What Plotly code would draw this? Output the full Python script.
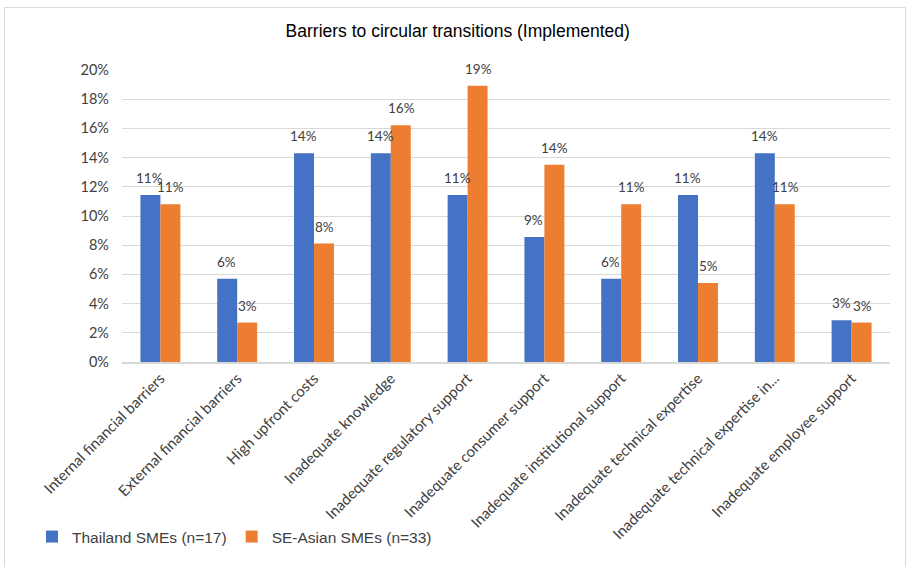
import plotly.graph_objects as go

categories = ["Internal financial barriers", "External financial barriers", "High upfront costs",
              "Inadequate knowledge", "Inadequate regulatory support", "Inadequate consumer support",
              "Inadequate institutional support", "Inadequate technical expertise",
              "Inadequate technical expertise in...", "Inadequate employee support"]
thailand = [11.43, 5.71, 14.29, 14.29, 11.43, 8.57, 5.71, 11.43, 14.29, 2.86]
se_asian = [10.81, 2.70, 8.11, 16.22, 18.92, 13.51, 10.81, 5.41, 10.81, 2.70]
yticks = [0, 2, 4, 6, 8, 10, 12, 14, 16, 18, 20]

L, R, T, B = 122, 20, 70, 205
W, H = 910, 567
pw, ph = W - L - R, H - T - B
BARGAP = 0.48

def px_x(x):
    return (x - L) / pw

def px_y(y):
    return (H - B - y) / ph

fig = go.Figure()
fig.add_trace(go.Bar(x=categories, y=thailand, name="Thailand SMEs (n=17)",
                     marker=dict(color="#4472C4", line=dict(width=0))))
fig.add_trace(go.Bar(x=categories, y=se_asian, name="SE-Asian SMEs (n=33)",
                     marker=dict(color="#ED7D31", line=dict(width=0))))

bar_off = (1 - BARGAP) / 4 * pw / len(categories)
for series, sign in ((thailand, -1), (se_asian, 1)):
    for c, v in zip(categories, series):
        fig.add_annotation(x=c, y=v, xref="x", yref="y", text=f"{round(v)}%",
                           showarrow=False, xshift=sign * (bar_off + 0.5), yshift=17,
                           font=dict(family="Lato", size=13.5, color="#404040"))

fig.update_layout(
    width=W, height=H, margin=dict(l=L, r=R, t=T, b=B),
    paper_bgcolor="white", plot_bgcolor="white",
    barmode="group", bargap=BARGAP, bargroupgap=0,
    title=dict(text="Barriers to circular transitions (Implemented)", x=0.503, xref="container",
               y=1 - 31 / H, yanchor="middle",
               font=dict(family="Liberation Sans", size=17.5, color="#000000")),
    showlegend=True,
    legend=dict(orientation="h", x=px_x(32), xanchor="left", y=px_y(537), yanchor="middle",
                font=dict(family="Liberation Sans", size=15.5, color="#404040"),
                itemwidth=30, tracegroupgap=0),
    xaxis=dict(tickangle=-45, tickfont=dict(family="Lato", size=15, color="#404040"),
               showgrid=False, showline=True, linecolor="#d9d9d9", linewidth=1.5, ticks=""),
    yaxis=dict(range=[0, 20], tickvals=yticks, ticktext=[f"{v}%" for v in yticks],
               tickfont=dict(family="Lato", size=14.5, color="#404040"),
               showgrid=True, gridcolor="#d9d9d9", gridwidth=1, zeroline=False,
               showline=False, ticks="", ticklen=0, ticklabelstandoff=12),
)
fig.add_shape(type="rect", xref="paper", yref="paper",
              x0=px_x(4.5), x1=px_x(905.5), y0=px_y(640), y1=px_y(7.5),
              line=dict(color="#d9d9d9", width=1), fillcolor="rgba(0,0,0,0)", layer="below")

fig.write_html("out.html")
